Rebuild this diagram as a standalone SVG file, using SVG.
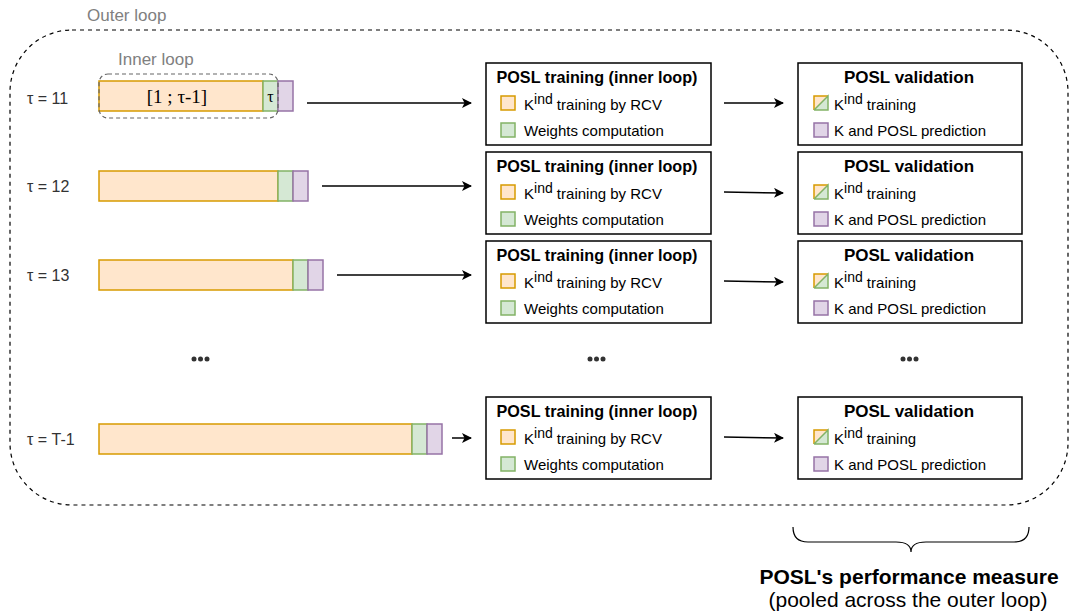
<svg xmlns="http://www.w3.org/2000/svg" width="1071" height="614" viewBox="0 0 1071 614">
<defs>
<marker id="ah" viewBox="0 0 10 10" refX="9" refY="5" markerWidth="10" markerHeight="10" markerUnits="userSpaceOnUse" orient="auto">
<path d="M0,0 L10,5 L0,10 L2.5,5 Z" fill="#000"/>
</marker>
<style>
text{font-family:"Liberation Sans",Arial,sans-serif;fill:#000}
.tau{font-size:16px;fill:#333}
.gray{font-size:17px;fill:#808080}
.title{font-size:17px;font-weight:bold;text-anchor:middle}
.leg{font-size:15px}
.sup{font-size:14px}
.box{fill:#fff;stroke:#000;stroke-width:1.5}
.or{fill:#ffe6cc;stroke:#d79b00;stroke-width:1.5}
.gr{fill:#d5e8d4;stroke:#82b366;stroke-width:1.5}
.pu{fill:#e1d5e7;stroke:#9673a6;stroke-width:1.5}
.arr{stroke:#000;stroke-width:1.5;fill:none;marker-end:url(#ah)}
.dots{fill:#333}
.serif{font-family:"Liberation Serif","Times New Roman",serif}
</style>
<g id="legTrain">
<rect x="0" y="0" width="14" height="14" class="or"/>
<rect x="0" y="27" width="14" height="14" class="gr"/>
</g>
<g id="legVal">
<path d="M0,0 L14,0 L0,14 Z" fill="#ffe6cc"/>
<path d="M14,0 L14,14 L0,14 Z" fill="#d5e8d4"/>
<path d="M0,14 L0,0 L14,0" fill="none" stroke="#d79b00" stroke-width="1.5"/>
<path d="M0,14 L14,14 L14,0 L0,14" fill="none" stroke="#82b366" stroke-width="1.5"/>
<rect x="0" y="27" width="14" height="14" class="pu"/>
</g>
</defs>
<rect width="1071" height="614" fill="#fff"/>

<g id="outer-loop">
<rect x="10" y="30" width="1058" height="475" rx="62" ry="62" fill="none" stroke="#000" stroke-width="1.2" stroke-dasharray="4 4"/>
<text x="87" y="21" class="gray">Outer loop</text>
</g>

<g id="row-11">
<text x="27" y="104" class="tau">τ = 11</text>
<rect x="99" y="81" width="164" height="30" class="or"/>
<rect x="263" y="81" width="15" height="30" class="gr"/>
<rect x="278" y="81" width="15" height="30" class="pu"/>
<text x="177" y="103" class="serif" style="font-size:19px" text-anchor="middle">[1 ; τ-1]</text>
<text x="270.5" y="102" class="serif" style="font-size:16px" text-anchor="middle">τ</text>
</g>
<g id="inner-loop">
<rect x="99" y="74" width="179" height="44" rx="9" ry="9" fill="none" stroke="#666" stroke-width="1.2" stroke-dasharray="4 3"/>
<text x="118" y="65" class="gray">Inner loop</text>
</g>

<g id="row-12">
<text x="27" y="192" class="tau">τ = 12</text>
<rect x="99" y="171" width="179" height="30" class="or"/>
<rect x="278" y="171" width="15" height="30" class="gr"/>
<rect x="293" y="171" width="15" height="30" class="pu"/>
</g>
<g id="row-13">
<text x="27" y="281" class="tau">τ = 13</text>
<rect x="99" y="260" width="194" height="30" class="or"/>
<rect x="293" y="260" width="15" height="30" class="gr"/>
<rect x="308" y="260" width="15" height="30" class="pu"/>
</g>
<g id="row-T1">
<text x="27" y="445" class="tau">τ = T-1</text>
<rect x="99" y="424" width="313" height="30" class="or"/>
<rect x="412" y="424" width="15" height="30" class="gr"/>
<rect x="427" y="424" width="15" height="30" class="pu"/>
</g>

<g id="train-1">
<rect x="486" y="63" width="225" height="82" class="box"/>
<text x="597" y="83" class="title" textLength="201" lengthAdjust="spacingAndGlyphs">POSL training (inner loop)</text>
<use href="#legTrain" x="501" y="96"/>
<text x="524" y="110" class="leg">K<tspan dy="-6" class="sup">ind</tspan><tspan dy="6"> training by RCV</tspan></text>
<text x="524" y="136" class="leg">Weights computation</text>
</g>
<g id="train-2">
<rect x="486" y="152" width="225" height="82" class="box"/>
<text x="597" y="172" class="title" textLength="201" lengthAdjust="spacingAndGlyphs">POSL training (inner loop)</text>
<use href="#legTrain" x="501" y="185"/>
<text x="524" y="199" class="leg">K<tspan dy="-6" class="sup">ind</tspan><tspan dy="6"> training by RCV</tspan></text>
<text x="524" y="225" class="leg">Weights computation</text>
</g>
<g id="train-3">
<rect x="486" y="241" width="225" height="82" class="box"/>
<text x="597" y="261" class="title" textLength="201" lengthAdjust="spacingAndGlyphs">POSL training (inner loop)</text>
<use href="#legTrain" x="501" y="274"/>
<text x="524" y="288" class="leg">K<tspan dy="-6" class="sup">ind</tspan><tspan dy="6"> training by RCV</tspan></text>
<text x="524" y="314" class="leg">Weights computation</text>
</g>
<g id="train-4">
<rect x="486" y="397" width="225" height="82" class="box"/>
<text x="597" y="417" class="title" textLength="201" lengthAdjust="spacingAndGlyphs">POSL training (inner loop)</text>
<use href="#legTrain" x="501" y="430"/>
<text x="524" y="444" class="leg">K<tspan dy="-6" class="sup">ind</tspan><tspan dy="6"> training by RCV</tspan></text>
<text x="524" y="470" class="leg">Weights computation</text>
</g>

<g id="val-1">
<rect x="798" y="63" width="224" height="82" class="box"/>
<text x="909" y="83" class="title">POSL validation</text>
<use href="#legVal" x="814" y="96"/>
<text x="834" y="110" class="leg">K<tspan dy="-6" class="sup">ind</tspan><tspan dy="6"> training</tspan></text>
<text x="834" y="136" class="leg">K and POSL prediction</text>
</g>
<g id="val-2">
<rect x="798" y="152" width="224" height="82" class="box"/>
<text x="909" y="172" class="title">POSL validation</text>
<use href="#legVal" x="814" y="185"/>
<text x="834" y="199" class="leg">K<tspan dy="-6" class="sup">ind</tspan><tspan dy="6"> training</tspan></text>
<text x="834" y="225" class="leg">K and POSL prediction</text>
</g>
<g id="val-3">
<rect x="798" y="241" width="224" height="82" class="box"/>
<text x="909" y="261" class="title">POSL validation</text>
<use href="#legVal" x="814" y="274"/>
<text x="834" y="288" class="leg">K<tspan dy="-6" class="sup">ind</tspan><tspan dy="6"> training</tspan></text>
<text x="834" y="314" class="leg">K and POSL prediction</text>
</g>
<g id="val-4">
<rect x="798" y="397" width="224" height="82" class="box"/>
<text x="909" y="417" class="title">POSL validation</text>
<use href="#legVal" x="814" y="430"/>
<text x="834" y="444" class="leg">K<tspan dy="-6" class="sup">ind</tspan><tspan dy="6"> training</tspan></text>
<text x="834" y="470" class="leg">K and POSL prediction</text>
</g>

<g id="ellipses">
<circle cx="194" cy="359" r="2.5" class="dots"/><circle cx="200.5" cy="359" r="2.5" class="dots"/><circle cx="207" cy="359" r="2.5" class="dots"/>
<circle cx="590" cy="359" r="2.5" class="dots"/><circle cx="596.5" cy="359" r="2.5" class="dots"/><circle cx="603" cy="359" r="2.5" class="dots"/>
<circle cx="903" cy="359" r="2.5" class="dots"/><circle cx="909.5" cy="359" r="2.5" class="dots"/><circle cx="916" cy="359" r="2.5" class="dots"/>
</g>

<g id="connectors">
<line x1="307" y1="103" x2="471" y2="103" class="arr"/>
<line x1="322" y1="186" x2="471" y2="186" class="arr"/>
<line x1="337" y1="275" x2="471" y2="275" class="arr"/>
<line x1="452" y1="438" x2="471" y2="438" class="arr"/>
<line x1="724" y1="103" x2="783" y2="103" class="arr"/>
<line x1="724" y1="192" x2="783" y2="193" class="arr"/>
<line x1="724" y1="281" x2="783" y2="282" class="arr"/>
<line x1="724" y1="437" x2="783" y2="438" class="arr"/>
</g>

<g id="performance">
<path d="M793,527 Q793,542 808,542 L896,542 Q911,542 911,552 Q911,542 926,542 L1014,542 Q1029,542 1029,527" fill="none" stroke="#000" stroke-width="1.2"/>
<text x="909" y="584" style="font-size:21px;font-weight:bold" text-anchor="middle">POSL's performance measure</text>
<text x="908" y="607" style="font-size:21px" text-anchor="middle">(pooled across the outer loop)</text>
</g>
</svg>
